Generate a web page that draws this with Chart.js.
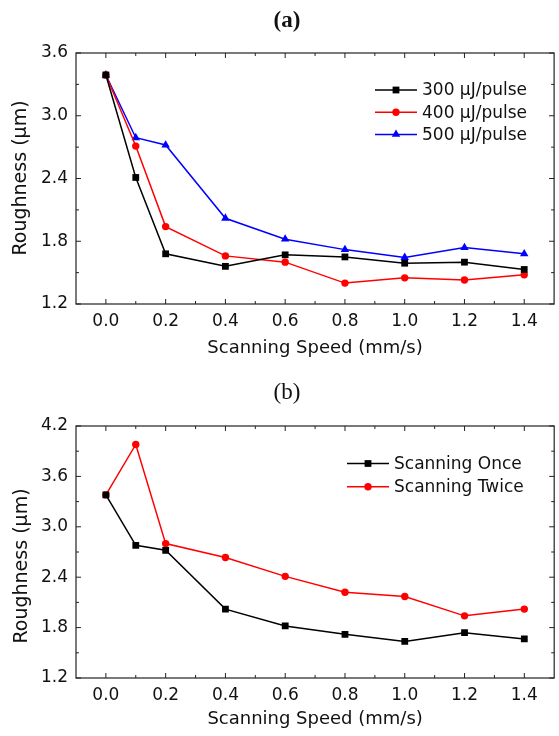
<!DOCTYPE html>
<html>
<head>
<meta charset="utf-8">
<script src="https://cdn.jsdelivr.net/npm/chart.js@4.4.1/dist/chart.umd.min.js"></script>
<style>
  html, body { margin: 0; padding: 0; background: #fff; }
  .panel { position: relative; width: 559px; height: 368px; }
</style>
</head>
<body>
<div class="panel"><canvas id="chart-a" width="559" height="368"></canvas></div>
<div class="panel"><canvas id="chart-b" width="559" height="368"></canvas></div>
<script>
// scanning speed (mm/s)
const speed = [0, 0.1, 0.2, 0.4, 0.6, 0.8, 1.0, 1.2, 1.4];

// (a) roughness vs pulse energy
const rough300 = [3.39, 2.41, 1.68, 1.56, 1.67, 1.65, 1.59, 1.60, 1.53];
const rough400 = [3.39, 2.71, 1.94, 1.66, 1.60, 1.40, 1.45, 1.43, 1.48];
const rough500 = [3.39, 2.79, 2.72, 2.02, 1.82, 1.72, 1.645, 1.74, 1.68];

// (b) scanning once / twice
const scanOnce = [3.38, 2.78, 2.72, 2.02, 1.82, 1.72, 1.635, 1.74, 1.665];
const scanTwice = [3.38, 3.98, 2.80, 2.635, 2.41, 2.22, 2.17, 1.94, 2.02];

// ticks
const xTicks = [0, 0.2, 0.4, 0.6, 0.8, 1.0, 1.2, 1.4];
const xMinor = [0.1, 0.3, 0.5, 0.7, 0.9, 1.1, 1.3];
const yTicksA = [1.2, 1.8, 2.4, 3.0, 3.6];
const yMinorA = [1.5, 2.1, 2.7, 3.3];
const yTicksB = [1.2, 1.8, 2.4, 3.0, 3.6, 4.2];
const yMinorB = [1.5, 2.1, 2.7, 3.3, 3.9];

const FONT = "'DejaVu Sans', sans-serif";
const INK = '#111';

const toPts = (ys) => speed.map((s, i) => ({ x: s, y: ys[i] }));

// box, inward ticks, legend and panel labels
const framePlugin = {
  id: 'frame',
  afterDraw(chart, args, opts) {
    const ctx = chart.ctx;
    const { left, right, top, bottom } = chart.chartArea;
    const xs = chart.scales.x, ys = chart.scales.y;
    ctx.save();
    ctx.strokeStyle = '#222';
    ctx.lineWidth = 1.2;
    ctx.strokeRect(left, top, right - left, bottom - top);

    ctx.lineWidth = 1;
    const tick = (x1, y1, x2, y2) => { ctx.beginPath(); ctx.moveTo(x1, y1); ctx.lineTo(x2, y2); ctx.stroke(); };
    xTicks.forEach(v => { const p = xs.getPixelForValue(v); tick(p, bottom, p, bottom - 5); tick(p, top, p, top + 5); });
    xMinor.forEach(v => { const p = xs.getPixelForValue(v); tick(p, bottom, p, bottom - 3); tick(p, top, p, top + 3); });
    opts.yMajor.forEach(v => { const p = ys.getPixelForValue(v); tick(left, p, left + 5, p); tick(right, p, right - 5, p); });
    opts.yMinor.forEach(v => { const p = ys.getPixelForValue(v); tick(left, p, left + 3, p); tick(right, p, right - 3, p); });

    // legend
    const lg = opts.legend;
    ctx.font = '17px ' + FONT;
    ctx.textBaseline = 'middle';
    ctx.textAlign = 'left';
    chart.data.datasets.forEach((ds, i) => {
      const yy = lg.y + i * lg.dy;
      ctx.strokeStyle = ds.borderColor;
      ctx.lineWidth = ds.borderWidth;
      tick(lg.x, yy, lg.x + 42, yy);
      ctx.fillStyle = ds.borderColor;
      Chart.helpers.drawPoint(ctx, { pointStyle: ds.pointStyle, radius: ds.pointRadius, rotation: 0, borderWidth: 0 }, lg.x + 21, yy);
      ctx.fillStyle = INK;
      ctx.fillText(ds.label, lg.x + 47, yy + 1);
    });

    // panel label
    ctx.fillStyle = INK;
    ctx.textAlign = 'center';
    ctx.font = opts.panel.font;
    ctx.fillText(opts.panel.text, opts.panel.x, opts.panel.y);

    // y title
    ctx.font = '19px ' + FONT;
    ctx.translate(opts.yTitle.x, opts.yTitle.y);
    ctx.rotate(-Math.PI / 2);
    ctx.fillText('Roughness (\u00b5m)', 0, 0);
    ctx.restore();
  }
};

function series(label, ys, color, style, r) {
  return {
    label, data: toPts(ys), borderColor: color, backgroundColor: color,
    borderWidth: 1.5, pointStyle: style, pointRadius: r, pointBorderWidth: 0,
    pointBackgroundColor: color, tension: 0
  };
}

function makeChart(canvas, datasets, yMajor, yMinor, yMax, pad, xHeight, xTitlePad, frameOpts) {
  return new Chart(canvas.getContext('2d'), {
    type: 'line',
    data: { datasets },
    options: {
      responsive: false,
      animation: false,
      layout: { padding: { top: pad, right: 1, left: 0, bottom: 0 } },
      plugins: { legend: { display: false }, tooltip: { enabled: false }, frame: Object.assign({ yMajor, yMinor }, frameOpts) },
      scales: {
        x: {
          type: 'linear', min: -0.1, max: 1.5,
          afterBuildTicks: s => { s.ticks = xTicks.map(v => ({ value: v })); },
          afterFit: s => { s.height = xHeight; },
          grid: { display: false, drawTicks: false },
          border: { display: false },
          ticks: { callback: v => Number(v).toFixed(1), font: { family: FONT, size: 17 }, color: INK, padding: 7, maxRotation: 0, autoSkip: false },
          title: { display: true, text: 'Scanning Speed (mm/s)', font: { family: FONT, size: 18 }, color: INK, padding: { top: 0, bottom: xTitlePad } }
        },
        y: {
          min: 1.2, max: yMax,
          afterBuildTicks: s => { s.ticks = yMajor.map(v => ({ value: v })); },
          afterFit: s => { s.width = 76; },
          grid: { display: false, drawTicks: false },
          border: { display: false },
          ticks: { callback: v => Number(v).toFixed(1), font: { family: FONT, size: 17 }, color: INK, padding: 8 }
        }
      }
    },
    plugins: [framePlugin]
  });
}

makeChart(document.querySelector('#chart-a'), [
  series('300 \u00b5J/pulse', rough300, '#000000', 'rect', 4.8),
  series('400 \u00b5J/pulse', rough400, '#ff0000', 'circle', 3.7),
  series('500 \u00b5J/pulse', rough500, '#0000ff', 'triangle', 4.9)
], yTicksA, yMinorA, 3.6, 53, 64, 9, {
  legend: { x: 375, y: 90, dy: 22.2 },
  panel: { text: '(a)', x: 287, y: 21, font: "bold 23px 'Liberation Serif', serif" },
  yTitle: { x: 21, y: 178 }
});

makeChart(document.querySelector('#chart-b'), [
  series('Scanning Once', scanOnce, '#000000', 'rect', 4.8),
  series('Scanning Twice', scanTwice, '#ff0000', 'circle', 3.7)
], yTicksB, yMinorB, 4.2, 58, 58, 6, {
  legend: { x: 347, y: 95.5, dy: 23.3 },
  panel: { text: '(b)', x: 287, y: 25, font: "23px 'Liberation Serif', serif" },
  yTitle: { x: 22, y: 198 }
});
</script>
</body>
</html>
